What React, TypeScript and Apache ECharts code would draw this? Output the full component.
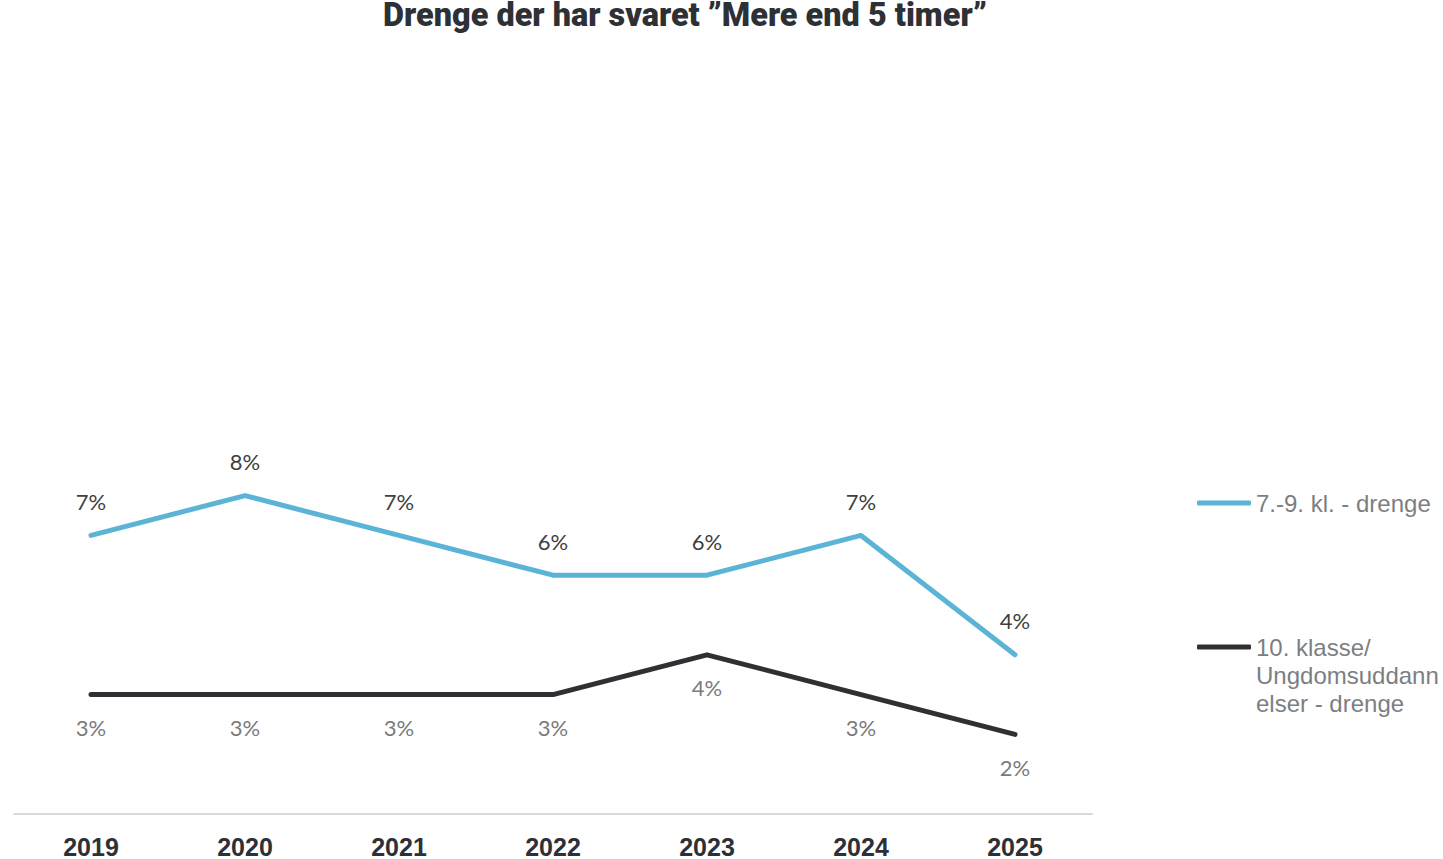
import React, { useEffect, useRef } from "react";
import * as echarts from "echarts";

const TITLE = "Drenge der har svaret ”Mere end 5 timer”";
const YEARS = ["2019", "2020", "2021", "2022", "2023", "2024", "2025"];
const SERIES_A_NAME = "7.-9. kl. - drenge";
const SERIES_B_NAME = "10. klasse/ Ungdomsuddannelser - drenge";
const SERIES_A = [7, 8, 7, 6, 6, 7, 4];
const SERIES_B = [3, 3, 3, 3, 4, 3, 2];

const TITLE_FONT = "900 34px Roboto";
const TITLE_WIDTH = 604;

export default function App() {
  const ref = useRef<HTMLDivElement>(null);
  useEffect(() => {
    if (!ref.current) return;
    const chart = echarts.init(ref.current, undefined, { renderer: "svg" });
    let scaleX = 0.8;
    try {
      const ctx = document.createElement("canvas").getContext("2d");
      if (ctx) {
        ctx.font = TITLE_FONT;
        const w = ctx.measureText(TITLE).width;
        if (w > 0) scaleX = TITLE_WIDTH / w;
      }
    } catch (e) {}
    const labelFont = { fontFamily: "Lato", fontSize: 22 };
    const legendText = {
      fontFamily: "'Liberation Sans', Arial, sans-serif",
      fontSize: 24,
      lineHeight: 28,
      color: "#7b7f83",
    };
    chart.setOption({
      animation: false,
      backgroundColor: "#ffffff",
      graphic: [
        {
          type: "text",
          x: 685,
          y: 14,
          scaleX: scaleX,
          style: {
            text: TITLE,
            font: TITLE_FONT,
            fontFamily: "Roboto",
            fontWeight: 900,
            fontSize: 34,
            fill: "#2d3035",
            textAlign: "center",
            textVerticalAlign: "middle",
          },
        },
      ],
      legend: [
        {
          data: [SERIES_A_NAME],
          left: 1197,
          top: 489,
          padding: 0,
          icon: "roundRect",
          itemWidth: 54,
          itemHeight: 5,
          selectedMode: false,
          textStyle: legendText,
        },
        {
          data: [SERIES_B_NAME],
          left: 1197,
          top: 577,
          padding: 0,
          icon: "roundRect",
          itemWidth: 54,
          itemHeight: 5,
          selectedMode: false,
          formatter: () => " \n \n10. klasse/\nUngdomsuddann\nelser - drenge",
          textStyle: legendText,
        },
      ],
      grid: { left: 14, right: 351, top: 18, bottom: 41, containLabel: false },
      xAxis: {
        type: "category",
        data: YEARS,
        boundaryGap: true,
        axisLine: { show: true, lineStyle: { color: "#d9d9d9", width: 2 } },
        axisTick: { show: false },
        axisLabel: {
          margin: 20,
          fontFamily: "'Liberation Sans', Arial, sans-serif",
          fontWeight: "bold",
          fontSize: 25,
          color: "#2d3035",
        },
      },
      yAxis: {
        type: "value",
        min: 0,
        max: 20,
        show: false,
        splitLine: { show: false },
      },
      series: [
        {
          name: SERIES_A_NAME,
          type: "line",
          data: SERIES_A,
          color: "#5bb4d6",
          symbol: "circle",
          symbolSize: 0,
          showSymbol: true,
          lineStyle: { width: 5, color: "#5bb4d6", cap: "round", join: "round" },
          label: {
            show: true,
            position: "top",
            distance: 23,
            formatter: "{c}%",
            color: "#404040",
            ...labelFont,
          },
        },
        {
          name: SERIES_B_NAME,
          type: "line",
          data: SERIES_B,
          color: "#2e3034",
          symbol: "circle",
          symbolSize: 0,
          showSymbol: true,
          lineStyle: { width: 5, color: "#2e3034", cap: "round", join: "round" },
          label: {
            show: true,
            position: "bottom",
            distance: 22,
            formatter: "{c}%",
            color: "#7a7a7a",
            ...labelFont,
          },
        },
      ],
    });
    return () => chart.dispose();
  }, []);
  return (
    <div
      ref={ref}
      style={{ position: "fixed", left: 0, top: 0, width: 1443, height: 859 }}
    />
  );
}
